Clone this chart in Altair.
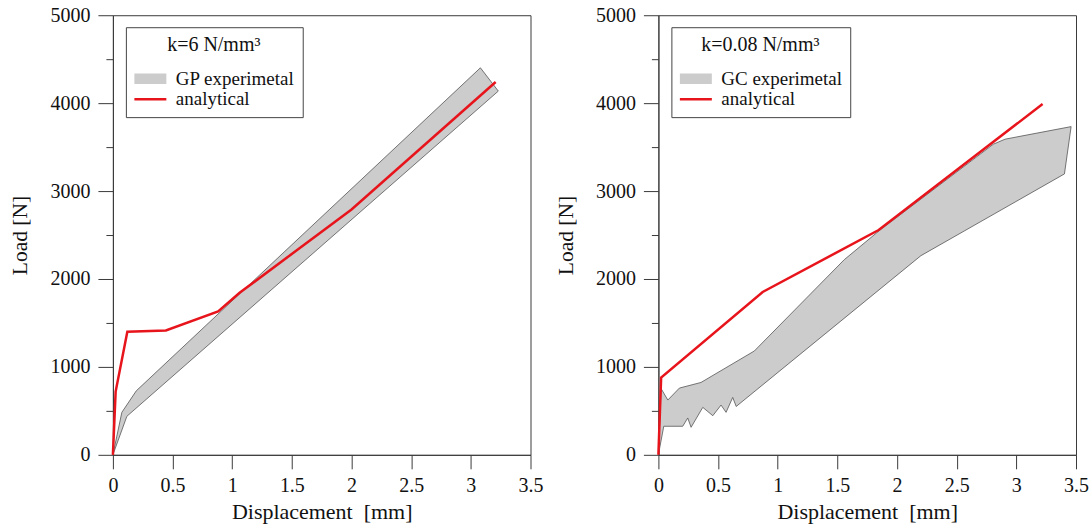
import altair as alt
import pandas as pd

SERIF = "Liberation Serif"
RED = "#e8141c"
BAND_FILL = "#cccccc"
BAND_EDGE = "#555555"
AXIS_COLOR = "#3a3a3a"

# ---------------- data ----------------
# Left panel: k = 6 N/mm3, GP experimental band
gp_upper_x = [0, 0.075, 0.196, 3.08]
gp_upper_y = [0, 483, 728, 4402]
gp_lower_x = [0, 0.117, 3.23]
gp_lower_y = [0, 438, 4137]
gp_an_x = [0, 0.023, 0.121, 0.444, 0.882, 1.062, 2.0, 3.208]
gp_an_y = [0, 719, 1400, 1415, 1630, 1843, 2790, 4240]

# Right panel: k = 0.08 N/mm3, GC experimental band
gc_upper_x = [0, 0.022, 0.079, 0.176, 0.357, 0.804, 1.558, 1.855, 2.807, 2.905, 3.459]
gc_upper_y = [0, 755, 623, 759, 823, 1181, 2220, 2554, 3533, 3590, 3733]
gc_lower_x = [0, 0.045, 0.204, 0.246, 0.274, 0.372, 0.456, 0.525, 0.567, 0.623, 0.652, 2.2, 3.403]
gc_lower_y = [0, 325, 325, 419, 313, 540, 445, 566, 483, 653, 550, 2265, 3195]
gc_an_x = [0, 0.023, 0.874, 1.846, 3.22]
gc_an_y = [0, 879, 1852, 2557, 3990]

x_ticks = [i * 0.25 for i in range(15)]
y_ticks = [i * 500 for i in range(11)]

# legend symbol shapes (band patch and line sample)
BAND_SYMBOL = "M-1.8,-1.05H4.6V1.05H-1.8Z"
LINE_SYMBOL = "M-1.8,-0.25H4.6V0.25H-1.8Z"


def polygon(ux, uy, lx, ly):
    xs = list(ux) + list(reversed(lx))
    ys = list(uy) + list(reversed(ly))
    return pd.DataFrame({"x": xs, "y": ys, "i": list(range(len(xs)))})


def panel(band_df, an_x, an_y, band_label, k_title):
    an = pd.DataFrame({"x": an_x, "y": an_y})
    keys = pd.DataFrame({"series": [band_label, "analytical"]})
    xs = alt.Scale(domain=[0, 3.5], nice=False, zero=False)
    ys = alt.Scale(domain=[0, 5000], nice=False)
    x_axis = alt.Axis(
        values=x_ticks,
        labelExpr="datum.value % 0.5 === 0 ? format(datum.value, '~g') : ''",
        tickSize={"condition": {"test": "datum.value % 0.5 !== 0", "value": 7}, "value": 14},
        labelOverlap=False,
        labelFlush=False,
        labelPadding=7,
        titlePadding=6,
        title="Displacement\u00a0 [mm]",
        titleFontSize=22,
    )
    y_axis = alt.Axis(
        values=y_ticks,
        labelExpr="datum.value % 1000 === 0 ? format(datum.value, 'd') : ''",
        tickSize={"condition": {"test": "datum.value % 1000 !== 0", "value": 7}, "value": 15},
        labelOverlap=False,
        labelFlush=False,
        labelPadding=8,
        titlePadding=18,
        title="Load [N]",
        titleFontSize=21.5,
    )
    band_layer = alt.Chart(band_df).mark_line(
        fill=BAND_FILL, stroke=BAND_EDGE, strokeWidth=0.8
    ).encode(
        x=alt.X("x:Q", scale=xs, axis=x_axis),
        y=alt.Y("y:Q", scale=ys, axis=y_axis),
        order=alt.Order("i:Q"),
    )
    line_layer = alt.Chart(an).mark_line(stroke=RED, strokeWidth=2.5).encode(
        x=alt.X("x:Q", scale=xs),
        y=alt.Y("y:Q", scale=ys),
    )
    legend = alt.Legend(
        title=k_title,
        orient="none",
        legendX=13,
        legendY=12,
        titleFont=SERIF,
        titleFontSize=20,
        titleFontWeight="normal",
        titleColor="#111111",
        titleAnchor="middle",
        titleAlign="center",
        titlePadding=14,
        labelFont=SERIF,
        labelFontSize=19,
        labelColor="#111111",
        labelOffset=23,
        symbolSize=100,
        symbolStrokeWidth=0,
        symbolOpacity=1,
        rowPadding=0.5,
        padding=8,
        strokeColor="#444444",
        fillColor="white",
    )
    key_layer = alt.Chart(keys).transform_filter("false").mark_point(
        filled=True, opacity=1
    ).encode(
        color=alt.Color("series:N",
                        scale=alt.Scale(domain=[band_label, "analytical"], range=[BAND_FILL, RED]),
                        legend=legend),
        shape=alt.Shape("series:N",
                        scale=alt.Scale(domain=[band_label, "analytical"], range=[BAND_SYMBOL, LINE_SYMBOL]),
                        legend=legend),
    )
    return alt.layer(band_layer, line_layer, key_layer).properties(width=418, height=440)


left = panel(polygon(gp_upper_x, gp_upper_y, gp_lower_x, gp_lower_y),
             gp_an_x, gp_an_y, "GP experimetal", "k=6 N/mm\u00b3")
right = panel(polygon(gc_upper_x, gc_upper_y, gc_lower_x, gc_lower_y),
              gc_an_x, gc_an_y, "GC experimetal", "k=0.08 N/mm\u00b3")

chart = (
    alt.hconcat(left, right, spacing=11)
    .resolve_scale(color="independent", shape="independent")
    .properties(padding={"left": 9, "top": 4, "right": 2, "bottom": 2})
    .configure(background="white")
    .configure_view(stroke=AXIS_COLOR, strokeWidth=1)
    .configure_axis(
        grid=False,
        domainColor=AXIS_COLOR,
        tickColor=AXIS_COLOR,
        labelFont=SERIF,
        labelFontSize=20,
        labelColor="#111111",
        titleFont=SERIF,
        titleFontWeight="normal",
        titleColor="#111111",
    )
)

chart.save("out.html", embed_options={"renderer": "svg", "actions": False})
